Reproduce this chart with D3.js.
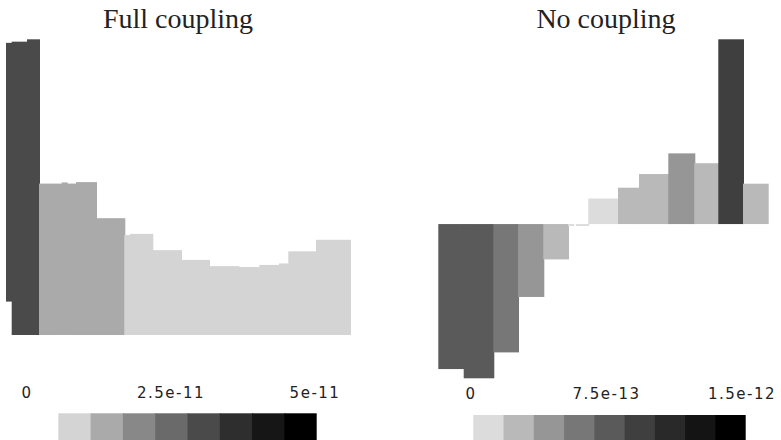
<!DOCTYPE html>
<html>
<head>
<meta charset="utf-8">
<script src="https://cdn.jsdelivr.net/npm/d3@7"></script>
<style>
  html, body { margin: 0; padding: 0; background: #fff; }
  svg { display: block; }
</style>
</head>
<body>
<svg id="chart" width="781" height="440"></svg>
<script>
// ---------- DATA ----------
const titles = ["Full coupling", "No coupling"];

// Left panel ("Full coupling"): bin edges (position units), bar low/high (relative units), shade level
const leftEdges = [0, 5.7, 21, 33, 55.7, 60.7, 70, 90, 118.3, 124, 146.3, 175, 203, 232.3, 253.3, 273, 282.3, 310, 345];
const leftLow   = [0.113, 0, 0, 0, 0, 0, 0, 0, 0, 0, 0, 0, 0, 0, 0, 0, 0, 0];
const leftHigh  = [0.988, 0.992, 1.0, 0.512, 0.516, 0.512, 0.517, 0.395, 0.338, 0.342, 0.287, 0.254, 0.233, 0.230, 0.237, 0.242, 0.283, 0.322];
const leftLevel = [4, 4, 4, 1, 1, 1, 1, 1, 0, 0, 0, 0, 0, 0, 0, 0, 0, 0];

// Right panel ("No coupling"): bin edges and signed values
const rightEdges  = [0, 25.4, 55, 79.7, 105, 129.7, 135, 137.7, 150, 179.7, 200.7, 230, 256, 280, 304.7, 330.4];
const rightValues = [-7.22e-13, -7.68e-13, -6.39e-13, -3.63e-13, -1.76e-13, -1.0e-14, 0, -1.0e-14,
                     1.27e-13, 1.81e-13, 2.49e-13, 3.52e-13, 3.03e-13, 9.2e-13, 2.01e-13];

// Colour bars
const leftPalette  = ["#d4d4d4", "#aaaaaa", "#888888", "#6a6a6a", "#4a4a4a", "#2e2e2e", "#161616", "#000000"];
const rightPalette = ["#dcdcdc", "#b9b9b9", "#969696", "#777777", "#5a5a5a", "#3f3f3f", "#292929", "#141414", "#000000"];
const leftTicks  = [0, 2.5e-11, 5e-11];
const leftTickLabels  = ["0", "2.5e-11", "5e-11"];
const rightTicks = [0, 7.5e-13, 1.5e-12];
const rightTickLabels = ["0", "7.5e-13", "1.5e-12"];

// ---------- DRAW ----------
const svg = d3.select("#chart");

// Titles
svg.selectAll("text.title").data(titles).join("text")
  .attr("class", "title")
  .attr("x", (d, i) => i === 0 ? 178 : 606)
  .attr("y", 28)
  .attr("text-anchor", "middle")
  .attr("font-family", "'Liberation Serif', 'Times New Roman', serif")
  .attr("font-size", 28)
  .attr("fill", "#222")
  .text(d => d);

// Left panel
const lx = d3.scaleLinear().domain([0, 345]).range([6, 351]);
const ly = d3.scaleLinear().domain([0, 1]).range([335, 39.3]);
const leftBars = leftHigh.map((h, i) => ({ x0: leftEdges[i], x1: leftEdges[i + 1], lo: leftLow[i], hi: h, lev: leftLevel[i], last: i === leftHigh.length - 1 }));
svg.append("g").selectAll("rect").data(leftBars).join("rect")
  .attr("x", d => lx(d.x0))
  .attr("width", d => lx(d.x1) - lx(d.x0) + (d.last ? 0 : 1))
  .attr("y", d => ly(d.hi))
  .attr("height", d => ly(d.lo) - ly(d.hi))
  .attr("fill", d => leftPalette[d.lev]);

// Right panel
const rx = d3.scaleLinear().domain([0, 330.4]).range([438.3, 768.7]);
const ry = d3.scaleLinear().domain([-7.68e-13, 9.2e-13]).range([378.3, 39.3]);
const rColor = d3.scaleQuantize().domain([0, 1.5e-12]).range(rightPalette);
const rightBars = rightValues.map((v, i) => ({ x0: rightEdges[i], x1: rightEdges[i + 1], v, last: i === rightValues.length - 1 }));
svg.append("g").selectAll("rect").data(rightBars.filter(d => d.v !== 0)).join("rect")
  .attr("x", d => rx(d.x0))
  .attr("width", d => rx(d.x1) - rx(d.x0) + (d.last ? 0 : 1))
  .attr("y", d => ry(Math.max(0, d.v)))
  .attr("height", d => Math.abs(ry(d.v) - ry(0)))
  .attr("fill", d => rColor(Math.abs(d.v)));

// Colour bars
function colorbar(palette, x0, x1, y0, y1, ticks, labels, tx0, tx1, ty) {
  const band = d3.scaleBand().domain(d3.range(palette.length)).range([x0, x1]).paddingInner(0);
  const g = svg.append("g");
  g.selectAll("rect").data(palette).join("rect")
    .attr("x", (d, i) => band(i))
    .attr("width", (d, i) => band.bandwidth() + (i === palette.length - 1 ? 0 : 1))
    .attr("y", y0)
    .attr("height", y1 - y0)
    .attr("fill", d => d);
  const ts = d3.scaleLinear().domain([ticks[0], ticks[ticks.length - 1]]).range([tx0, tx1]);
  g.selectAll("text").data(ticks).join("text")
    .attr("x", d => ts(d))
    .attr("y", ty)
    .attr("text-anchor", "middle")
    .attr("font-family", "'DejaVu Sans', sans-serif")
    .attr("font-size", 15)
    .attr("letter-spacing", 1.5)
    .attr("fill", "#222")
    .text((d, i) => labels[i]);
}
colorbar(leftPalette, 58.3, 316.7, 413.3, 440, leftTicks, leftTickLabels, 27, 315, 398);
colorbar(rightPalette, 473.3, 745.7, 415, 440, rightTicks, rightTickLabels, 471, 742, 399);
</script>
</body>
</html>
